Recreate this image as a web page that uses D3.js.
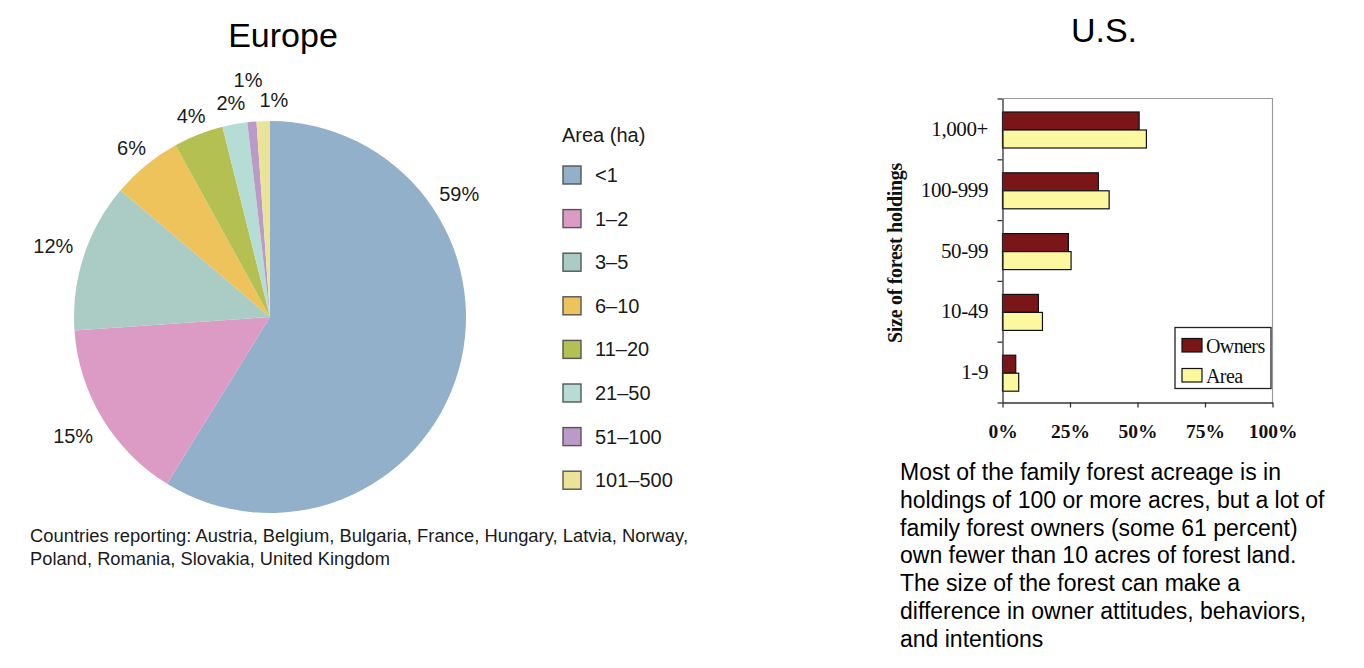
<!DOCTYPE html>
<html>
<head>
<meta charset="utf-8">
<script src="https://cdn.jsdelivr.net/npm/d3@7"></script>
<style>
  body { margin: 0; background: #fff; }
  svg { display: block; }
  text { font-family: "Liberation Sans", Arial, sans-serif; fill: #1a1a1a; }
  .serif { font-family: "Liberation Serif", "Times New Roman", serif; fill: #111; }
</style>
</head>
<body>
<svg id="chart" width="1364" height="668"></svg>
<script>
// ---- Europe pie data (share of holdings, %) ----
var euClasses = ['<1', '1\u20132', '3\u20135', '6\u201310', '11\u201320', '21\u201350', '51\u2013100', '101\u2013500']
var euShares = [58.8, 15.1, 12.3, 5.8, 4.1, 2.05, 0.75, 1.1]
var euColors = ['#93b0ca', '#db9bc5', '#abcbc5', '#eec35c', '#b4c152', '#b5ddd5', '#bb9ac7', '#ebe397']

// ---- U.S. bar data (%) ----
var usSizes = ['1,000+', '100-999', '50-99', '10-49', '1-9']
var usOwners = [50.6, 35.5, 24.4, 13.3, 4.9]
var usArea = [53.3, 39.5, 25.4, 14.8, 6.0]
var usSeries = ['Owners', 'Area']
var usColors = ['#7a1618', '#fcf8a0']
var xTicks = [0, 25, 50, 75, 100]

var countries = ['Countries reporting: Austria, Belgium, Bulgaria, France, Hungary, Latvia, Norway,',
  'Poland, Romania, Slovakia, United Kingdom']
var note = ['Most of the family forest acreage is in',
  'holdings of 100 or more acres, but a lot of',
  'family forest owners (some 61 percent)',
  'own fewer than 10 acres of forest land.',
  'The size of the forest can make a',
  'difference in owner attitudes, behaviors,',
  'and intentions']

// label placement tweaks (layout only)
var labelR = [226, 230, 228, 219, 216, 218, 238, 217]
var labelShift = [-49, 0, 0, 0, 0, 0, 0, 3]

var svg = d3.select('#chart')

// ================= Europe pie =================
var cx = 270, cy = 317, r = 196

svg.append('text')
  .attr('x', 283).attr('y', 47)
  .attr('text-anchor', 'middle')
  .style('font-size', '34px')
  .style('fill', '#000')
  .text('Europe')

var pie = d3.pie().sort(null).value(d => d)
var arcs = pie(euShares)
var arc = d3.arc().innerRadius(0).outerRadius(r)

var pieG = svg.append('g').attr('transform', 'translate(' + cx + ',' + cy + ')')

pieG.selectAll('path')
  .data(arcs)
  .enter()
  .append('path')
    .attr('d', arc)
    .attr('fill', (d, i) => euColors[i])

pieG.selectAll('text.lbl')
  .data(arcs)
  .enter()
  .append('text')
    .attr('class', 'lbl')
    .attr('transform', function(d, i) {
      var a = (d.startAngle + d.endAngle) / 2 + labelShift[i] * Math.PI / 180
      return 'translate(' + (labelR[i] * Math.sin(a)) + ',' + (-labelR[i] * Math.cos(a)) + ')'
    })
    .attr('text-anchor', 'middle')
    .attr('dy', '0.36em')
    .style('font-size', '20px')
    .text(d => Math.round(d.data) + '%')

// legend
var leg = svg.append('g').attr('transform', 'translate(562,0)')
leg.append('text')
  .attr('x', 0).attr('y', 142)
  .style('font-size', '20px')
  .text('Area (ha)')

var item = leg.selectAll('g.item')
  .data(euClasses)
  .enter()
  .append('g')
    .attr('class', 'item')
    .attr('transform', (d, i) => 'translate(0,' + (175 + i * 43.6) + ')')

item.append('rect')
  .attr('x', 1).attr('y', -9)
  .attr('width', 18).attr('height', 18)
  .attr('fill', (d, i) => euColors[i])
  .attr('stroke', '#555')
  .attr('stroke-width', 1.4)

item.append('text')
  .attr('x', 33).attr('y', 7)
  .style('font-size', '20px')
  .text(d => d)

svg.selectAll('text.countries')
  .data(countries)
  .enter()
  .append('text')
    .attr('class', 'countries')
    .attr('x', 30)
    .attr('y', (d, i) => 542 + i * 23)
    .attr('textLength', (d, i) => i === 0 ? 658 : 360)
    .attr('lengthAdjust', 'spacingAndGlyphs')
    .style('font-size', '17.5px')
    .text(d => d)

// ================= U.S. bars =================
svg.append('text')
  .attr('x', 1104).attr('y', 42)
  .attr('text-anchor', 'middle')
  .style('font-size', '34px')
  .style('fill', '#000')
  .text('U.S.')

var pLeft = 1002.5, pRight = 1272.5, pTop = 98.5, pBottom = 402.5

var x = d3.scaleLinear().domain([0, 100]).range([pLeft, pRight])
var y = d3.scaleBand().domain(usSizes).range([pTop, pBottom])
var ySub = d3.scaleBand().domain(usSeries).range([13.5, 49.5])
var yEdge = d3.scaleLinear().domain([0, usSizes.length]).range([pBottom, pTop])

// plot frame (top/right in grey)
svg.append('path')
  .attr('d', 'M' + pLeft + ',' + pTop + 'H' + pRight + 'V' + pBottom)
  .attr('fill', 'none')
  .attr('stroke', '#9a9a9a')
  .attr('stroke-width', 1.2)

var rows = usSizes.map((s, i) => ({ size: s, vals: [usOwners[i], usArea[i]] }))

var grp = svg.selectAll('g.row')
  .data(rows)
  .enter()
  .append('g')
    .attr('class', 'row')
    .attr('transform', d => 'translate(0,' + y(d.size) + ')')

grp.selectAll('rect')
  .data(d => d.vals)
  .enter()
  .append('rect')
    .attr('x', x(0))
    .attr('y', (d, i) => ySub(usSeries[i]))
    .attr('width', d => x(d) - x(0))
    .attr('height', ySub.bandwidth())
    .attr('fill', (d, i) => usColors[i])
    .attr('stroke', '#111')
    .attr('stroke-width', 1.2)

// axes
var yAxis = svg.append('g')
  .attr('transform', 'translate(' + pLeft + ',0)')
  .call(d3.axisLeft(yEdge).ticks(usSizes.length).tickFormat('').tickSize(5).tickSizeOuter(0))
yAxis.selectAll('line, path').attr('stroke', '#333').attr('stroke-width', 1.3)

var xAxis = svg.append('g')
  .attr('transform', 'translate(0,' + pBottom + ')')
  .call(d3.axisBottom(x).tickValues(xTicks).tickFormat(d => d + '%').tickSize(5).tickSizeOuter(0))
xAxis.selectAll('line, path').attr('stroke', '#333').attr('stroke-width', 1.3)
xAxis.selectAll('text')
  .attr('y', 35).attr('dy', 0)
  .attr('class', 'serif')
  .style('font-size', '19.5px')
  .style('font-weight', 'bold')

svg.selectAll('text.cat')
  .data(usSizes)
  .enter()
  .append('text')
    .attr('class', 'serif cat')
    .attr('x', 988)
    .attr('y', d => y(d) + y.bandwidth() / 2 + 7)
    .attr('text-anchor', 'end')
    .style('font-size', '21px')
    .style('letter-spacing', '-0.4px')
    .text(d => d)

svg.append('text')
  .attr('class', 'serif')
  .attr('transform', 'translate(902,253) rotate(-90)')
  .attr('text-anchor', 'middle')
  .style('font-size', '20px')
  .style('font-weight', 'bold')
  .style('letter-spacing', '-0.3px')
  .text('Size of forest holdings')

// legend box
var lg = svg.append('g').attr('transform', 'translate(1175,327.5)')
lg.append('rect')
  .attr('width', 96).attr('height', 61)
  .attr('fill', '#fff')
  .attr('stroke', '#222')
  .attr('stroke-width', 1.3)

var li = lg.selectAll('g.li')
  .data(usSeries)
  .enter()
  .append('g')
    .attr('class', 'li')
    .attr('transform', (d, i) => 'translate(7,' + (11 + i * 30) + ')')
li.append('rect')
  .attr('width', 20).attr('height', 13.5)
  .attr('fill', (d, i) => usColors[i])
  .attr('stroke', '#111')
  .attr('stroke-width', 1.2)
li.append('text')
  .attr('class', 'serif')
  .attr('x', 24).attr('y', 14)
  .style('font-size', '20px')
  .style('letter-spacing', '-0.6px')
  .text(d => d)

// note text
svg.selectAll('text.note')
  .data(note)
  .enter()
  .append('text')
    .attr('class', 'note')
    .attr('x', 900)
    .attr('y', (d, i) => 480 + i * 27.8)
    .style('font-size', '23px')
    .style('fill', '#000')
    .text(d => d)
</script>
</body>
</html>
